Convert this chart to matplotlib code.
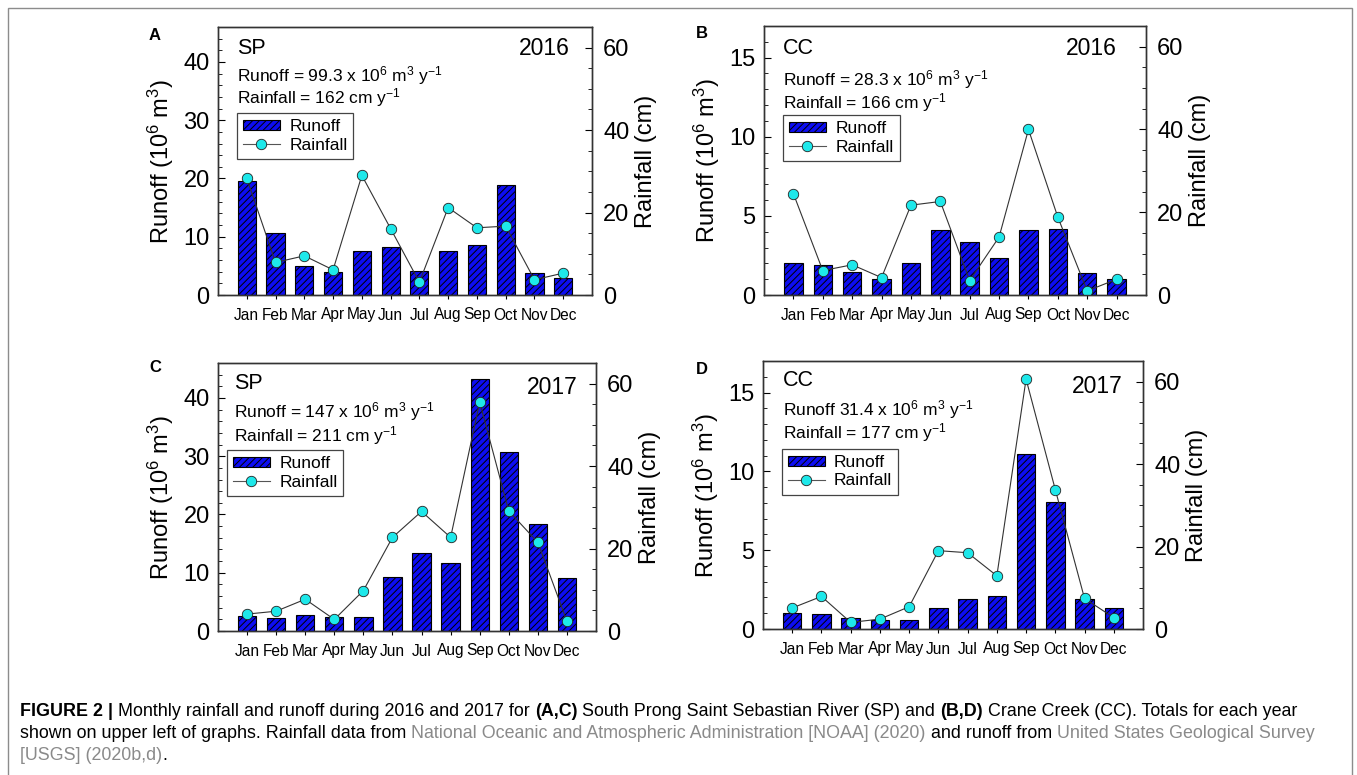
import matplotlib

matplotlib.use("Agg")
import matplotlib.pyplot as plt  # noqa: E402
from matplotlib.lines import Line2D  # noqa: E402
from matplotlib.patches import Patch, Rectangle  # noqa: E402
from matplotlib.ticker import MultipleLocator  # noqa: E402

plt.rcParams.update(
    {
        "font.family": ["Liberation Sans", "DejaVu Sans"],
        "mathtext.fontset": "custom",
        "mathtext.rm": "Liberation Sans",
        "mathtext.it": "Liberation Sans:italic",
        "mathtext.bf": "Liberation Sans:bold",
        "axes.linewidth": 1.0,
        "axes.edgecolor": "#333333",
        "hatch.linewidth": 0.7,
        "hatch.color": "black",
    }
)

months = ["Jan", "Feb", "Mar", "Apr", "May", "Jun",
          "Jul", "Aug", "Sep", "Oct", "Nov", "Dec"]

# monthly runoff (10^6 m^3)
runoff_sp_2016 = [19.5, 10.7, 5.0, 3.9, 7.6, 8.2, 4.2, 7.5, 8.6, 18.8, 3.8, 3.0]
runoff_cc_2016 = [2.05, 1.88, 1.43, 1.0, 2.0, 4.1, 3.33, 2.32, 4.13, 4.18, 1.39, 1.01]
runoff_sp_2017 = [2.5, 2.2, 2.7, 2.4, 2.4, 9.3, 13.35, 11.6, 43.3, 30.7, 18.3, 9.05]
runoff_cc_2017 = [1.03, 0.95, 0.67, 0.55, 0.55, 1.33, 1.92, 2.09, 11.09, 8.07, 1.9, 1.33]

# monthly rainfall (cm)
rain_sp_2016 = [28.3, 7.9, 9.5, 6.1, 29.0, 16.1, 3.1, 21.2, 16.3, 16.7, 3.7, 5.3]
rain_cc_2016 = [24.5, 5.9, 7.3, 4.2, 21.7, 22.6, 3.5, 14.0, 40.0, 18.8, 1.0, 3.8]
rain_sp_2017 = [4.1, 4.8, 7.7, 2.8, 9.8, 22.7, 29.0, 22.7, 55.5, 29.1, 21.5, 2.4]
rain_cc_2017 = [5.1, 7.9, 1.6, 2.4, 5.4, 19.0, 18.5, 12.9, 60.6, 33.8, 7.4, 2.75]

panel_letters = ["A", "B", "C", "D"]
sites = ["SP", "CC", "SP", "CC"]
years = ["2016", "2016", "2017", "2017"]
runoff_totals = [
    r"Runoff = 99.3 x 10$^{6}$ m$^{3}$ y$^{-1}$",
    r"Runoff = 28.3 x 10$^{6}$ m$^{3}$ y$^{-1}$",
    r"Runoff = 147 x 10$^{6}$ m$^{3}$ y$^{-1}$",
    r"Runoff 31.4 x 10$^{6}$ m$^{3}$ y$^{-1}$",
]
rain_totals = [
    r"Rainfall = 162 cm y$^{-1}$",
    r"Rainfall = 166 cm y$^{-1}$",
    r"Rainfall = 211 cm y$^{-1}$",
    r"Rainfall = 177 cm y$^{-1}$",
]
runoff_series = [runoff_sp_2016, runoff_cc_2016, runoff_sp_2017, runoff_cc_2017]
rain_series = [rain_sp_2016, rain_cc_2016, rain_sp_2017, rain_cc_2017]

BAR_BLUE = "#0d0df2"
DOT_CYAN = "#1ee8ea"

W, H = 1357, 775
fig = plt.figure(figsize=(W / 100, H / 100), dpi=100)

# axes boxes in pixels: left, top, right, bottom
boxes = [(218, 27, 592, 295), (764, 26, 1146, 295),
         (218, 363, 596, 631), (763, 361, 1143, 629)]
runoff_max = [46, 17, 46, 17]
runoff_major = [10, 5, 10, 5]
runoff_minor = [2, 1, 2, 1]
# text placement inside each panel (axes fraction)
site_xy = [(0.051, 0.92), (0.05, 0.915), (0.042, 0.925), (0.053, 0.929)]
year_xy = [(0.941, 0.92), (0.924, 0.915), (0.952, 0.907), (0.947, 0.903)]
tot_x = [0.051, 0.05, 0.042, 0.053]
tot_y = [(0.82, 0.735), (0.80, 0.717), (0.817, 0.731), (0.819, 0.733)]
leg_xy = [(0.051, 0.679), (0.05, 0.669), (0.024, 0.675), (0.05, 0.672)]
letter_xy = [(155, 35), (702, 33), (155, 368), (702, 370)]

x = list(range(len(months)))

for i in range(4):
    l, t, r, b = boxes[i]
    ax = fig.add_axes([l / W, 1 - b / H, (r - l) / W, (b - t) / H])
    ax2 = ax.twinx()

    ax.bar(x, runoff_series[i], width=0.63, color=BAR_BLUE,
           edgecolor="black", linewidth=0.8, hatch="/////", zorder=2)
    ax2.plot(x, rain_series[i], color="#333333", lw=0.8, marker="o",
             ms=7.5, mfc=DOT_CYAN, mec="#222222", mew=0.6)

    ax.set_xlim(-1.0, 12.0)
    ax.set_ylim(0, runoff_max[i])
    ax2.set_ylim(0, 65)

    ax.set_xticks(x)
    ax.set_xticklabels(months, fontsize=11.2)
    ax.tick_params(axis="x", direction="out", length=3, width=0.8, pad=6)
    ax.yaxis.set_major_locator(MultipleLocator(runoff_major[i]))
    ax.yaxis.set_minor_locator(MultipleLocator(runoff_minor[i]))
    ax.tick_params(axis="y", which="major", direction="in", length=5,
                   width=0.8, labelsize=17, pad=6)
    ax.tick_params(axis="y", which="minor", direction="in", length=3, width=0.6)
    ax2.yaxis.set_major_locator(MultipleLocator(20))
    ax2.yaxis.set_minor_locator(MultipleLocator(5))
    ax2.tick_params(axis="y", which="major", direction="in", length=5,
                    width=0.8, labelsize=17, pad=8)
    ax2.tick_params(axis="y", which="minor", direction="in", length=3, width=0.6)

    ax.set_ylabel(r"Runoff (10$^{6}$ m$^{3}$)", fontsize=17, labelpad=5)
    ax2.set_ylabel("Rainfall (cm)", fontsize=17, labelpad=4)

    ax2.text(*site_xy[i], sites[i], transform=ax.transAxes, fontsize=15.5,
             ha="left", va="center")
    ax2.text(*year_xy[i], years[i], transform=ax.transAxes, fontsize=16.5,
             ha="right", va="center")
    ax2.text(tot_x[i], tot_y[i][0], runoff_totals[i], transform=ax.transAxes,
             fontsize=12.5, ha="left", va="center")
    ax2.text(tot_x[i], tot_y[i][1], rain_totals[i], transform=ax.transAxes,
             fontsize=12.5, ha="left", va="center")

    handles = [
        Patch(facecolor=BAR_BLUE, edgecolor="black", hatch="/////", lw=0.8),
        Line2D([], [], color="#555555", lw=0.8, marker="o", ms=7.5,
               mfc=DOT_CYAN, mec="#222222", mew=0.6),
    ]
    leg = ax2.legend(handles, ["Runoff", "Rainfall"], loc="upper left",
                     bbox_to_anchor=leg_xy[i], fontsize=12.5, frameon=True,
                     fancybox=False, framealpha=1, edgecolor="#444444",
                     handlelength=2.1, handleheight=0.55, handletextpad=0.55,
                     labelspacing=0.2, borderpad=0.35, borderaxespad=0)
    leg.get_frame().set_linewidth(0.9)

    fig.text(letter_xy[i][0] / W, 1 - letter_xy[i][1] / H, panel_letters[i],
             fontsize=12, fontweight="bold", ha="center", va="center")

# outer frame round the figure and its caption
fig.patches.append(Rectangle((8 / W, -0.05), (1352 - 8) / W, 1 - 8 / H + 0.05,
                             transform=fig.transFigure, fill=False,
                             edgecolor="#8c8c8c", lw=1.0))

# caption, with the cited sources in grey
GREY = "#8a8a8a"
cap_font = ["Liberation Sans", "DejaVu Sans"]
cap_size = 12.9
caption_lines = [
    [("FIGURE 2 |", "black", "bold", True),
     ("Monthly rainfall and runoff during 2016 and 2017 for", "black", "normal", True),
     ("(A,C)", "black", "bold", True),
     ("South Prong Saint Sebastian River (SP) and", "black", "normal", True),
     ("(B,D)", "black", "bold", True),
     ("Crane Creek (CC). Totals for each year", "black", "normal", False)],
    [("shown on upper left of graphs. Rainfall data from", "black", "normal", True),
     ("National Oceanic and Atmospheric Administration [NOAA] (2020)", GREY, "normal", True),
     ("and runoff from", "black", "normal", True),
     ("United States Geological Survey", GREY, "normal", False)],
    [("[USGS] (2020b,d)", GREY, "normal", False),
     (".", "black", "normal", False)],
]
caption_y = [711, 733, 755]

renderer = fig.canvas.get_renderer()
probe_a = fig.text(0, 0, "a a", family=cap_font, fontsize=cap_size)
probe_b = fig.text(0, 0, "aa", family=cap_font, fontsize=cap_size)
space_w = (probe_a.get_window_extent(renderer).width
           - probe_b.get_window_extent(renderer).width)
probe_a.remove()
probe_b.remove()

for parts, y in zip(caption_lines, caption_y):
    xpos = 20.0
    for text, color, weight, space in parts:
        t = fig.text(xpos / W, 1 - y / H, text, family=cap_font, fontsize=cap_size,
                     color=color, fontweight=weight, ha="left", va="center")
        xpos += t.get_window_extent(renderer).width
        if space:
            xpos += space_w

fig.savefig("out.png", dpi=100)
